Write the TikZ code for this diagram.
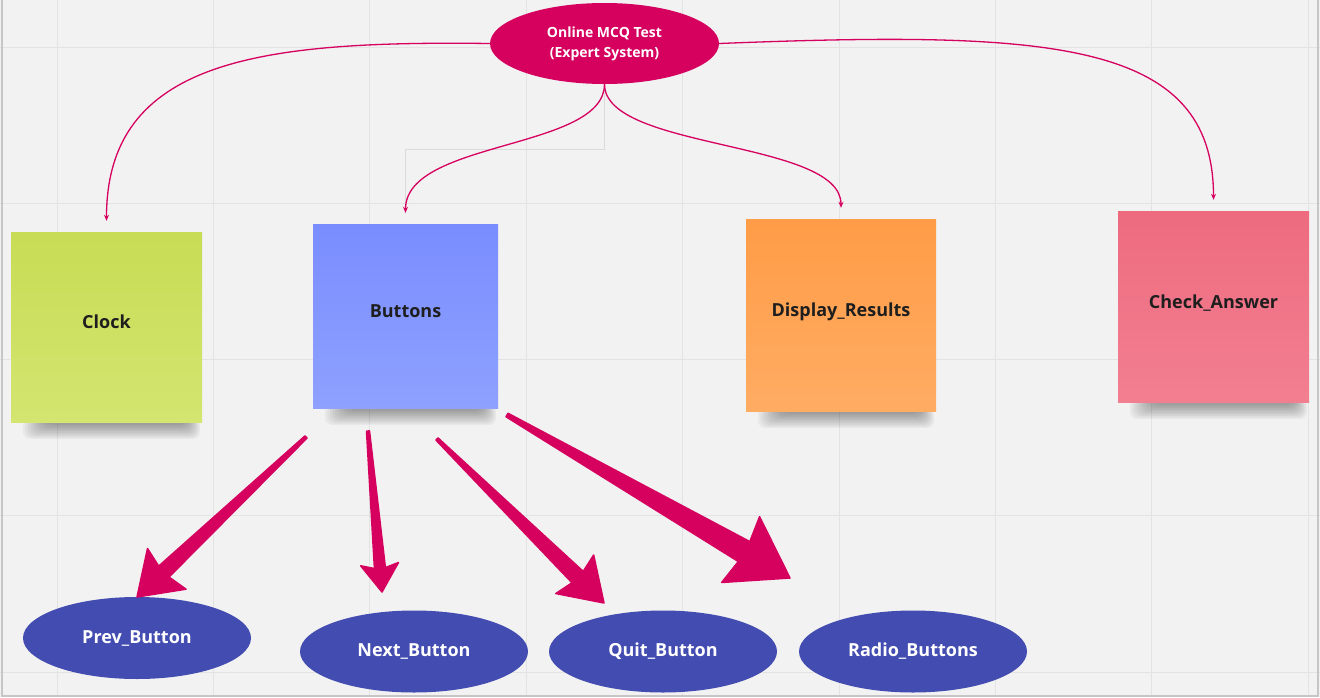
\documentclass[tikz,border=0pt]{standalone}
\usepackage{fontspec}
\setmainfont{Open Sans}
\usetikzlibrary{shapes.geometric,arrows.meta,calc}
\definecolor{bgc}{HTML}{F2F2F2}
\definecolor{gridc}{HTML}{E3E3E3}
\definecolor{edgec}{HTML}{C6C6C6}
\definecolor{mag}{HTML}{D6005F}
\definecolor{navy}{HTML}{434CB0}
\definecolor{inkc}{HTML}{1E1E1E}
\definecolor{limeT}{HTML}{C8DC55}
\definecolor{limeB}{HTML}{D4E570}
\definecolor{blueT}{HTML}{7A8DFF}
\definecolor{blueB}{HTML}{8EA1FF}
\definecolor{orT}{HTML}{FF9C47}
\definecolor{orB}{HTML}{FFAC63}
\definecolor{pkT}{HTML}{EE6B7F}
\definecolor{pkB}{HTML}{F27F90}
\pgfdeclarelayer{bglayer}
\pgfdeclarelayer{shadowlayer}
\pgfsetlayers{bglayer,shadowlayer,main}
\newcommand{\stickyshadow}[1]{%
  \foreach \k in {0,...,9}{%
    \fill[black,opacity=0.04,rounded corners=8pt]
      ($(#1.south west)+(12+2.5*\k,-4)$) rectangle ($(#1.south east)+(-2-1.5*\k,17-1.6*\k)$);
  }}
\newcommand{\wedgearrow}[6]{% tail, tip, tail half width, shaft half width, head half width, head length
  \pgfmathsetmacro\barbL{#6+4}%
  \fill[wedgefill]
    ($(#1)!#3pt!90:(#2)$) --
    ($(#2)!#6pt!(#1)!#4pt!90:(#2)$) --
    ($(#2)!\barbL pt!(#1)!#5pt!90:(#2)$) --
    (#2) --
    ($(#2)!\barbL pt!(#1)!#5pt!-90:(#2)$) --
    ($(#2)!#6pt!(#1)!#4pt!-90:(#2)$) --
    ($(#1)!#3pt!-90:(#2)$) -- cycle;}
\begin{document}
\begin{tikzpicture}[x=1pt,y=-1pt,
  stickybox/.style={rectangle,inner sep=0pt,text=inkc,
    font=\bfseries\fontsize{18}{22}\selectfont,text height=12.5pt,text depth=9.5pt},
  topoval/.style={ellipse,fill=mag,text=white,inner sep=0pt,
    minimum width=229pt,minimum height=81pt,align=center,
    font=\bfseries\fontsize{14}{20}\selectfont},
  btnoval/.style={ellipse,fill=navy,text=white,inner sep=0pt,
    minimum width=228pt,minimum height=82pt,
    font=\bfseries\fontsize{18}{22}\selectfont},
  conn/.style={draw=mag,line width=1.3pt,shorten >=11pt,
    -{Stealth[length=6pt,width=5pt]}},
  guide/.style={draw=black!14,line width=0.8pt},
  wedgefill/.style={fill=mag,draw=mag,line width=1.5pt,line join=round}]
\useasboundingbox (0,0) rectangle (1320,697);
\begin{pgfonlayer}{bglayer}
  \fill[bgc] (0,0) rectangle (1320,697);
  \foreach \i in {0,...,8} \draw[gridc,line width=1pt] ({57+156.4*\i},0) -- ({57+156.4*\i},697);
  \foreach \j in {0,...,4} \draw[gridc,line width=1pt] (0,{47+156.3*\j}) -- (1320,{47+156.3*\j});
  \draw[edgec,line width=2pt] (1.5,0) -- (1.5,695.5) -- (1317.5,695.5) -- (1317.5,0);
\end{pgfonlayer}

% main nodes
\node[topoval] (top) at (604.5,43.5) {Online MCQ Test\\(Expert System)};

\node[stickybox,minimum width=191pt,minimum height=190pt,top color=limeT,bottom color=limeB] (clock) at (106.5,327) {Clock};
\node[stickybox,minimum width=185pt,minimum height=184pt,top color=blueT,bottom color=blueB] (buttons) at (405.5,316) {Buttons};
\node[stickybox,minimum width=190pt,minimum height=192pt,top color=orT,bottom color=orB] (display) at (841,315) {Display\_Results};
\node[stickybox,minimum width=191pt,minimum height=191pt,top color=pkT,bottom color=pkB] (check) at (1213.5,306.5) {Check\_Answer};

\begin{pgfonlayer}{shadowlayer}
  \stickyshadow{clock}
  \stickyshadow{buttons}
  \stickyshadow{display}
  \stickyshadow{check}
  \draw[guide] (top.south) |- ($(buttons.north)+(0,-74.5)$) -- ($(buttons.north)+(0,-10)$);
\end{pgfonlayer}

\node[btnoval] (prev) at (137,638) {Prev\_Button};
\node[btnoval] (next) at (414,651.5) {Next\_Button};
\node[btnoval] (quit) at (663,651.5) {Quit\_Button};
\node[btnoval] (radio) at (913,651.5) {Radio\_Buttons};

% thin curved connectors
\draw[conn] (top.west) .. controls +(-230,-3) and +(0,-172) .. (clock.north);
\draw[conn] (top.south) .. controls +(0,66) and +(0,-84) .. (buttons.north);
\draw[conn] (top.south) .. controls +(0,66) and +(0,-79) .. (display.north);
\draw[conn] (top.east) .. controls +(331,-13) and +(0,-171) .. (check.north);

% thick wedge arrows
\coordinate (t1) at (306,437);  \coordinate (h1) at (137,597);
\coordinate (t2) at (368,431);  \coordinate (h2) at (382,592);
\coordinate (t3) at (437,439);  \coordinate (h3) at (604,603);
\coordinate (t4) at (507,415);  \coordinate (h4) at (790,578);
\wedgearrow{t1}{h1}{1.5}{7.5}{28}{37}
\wedgearrow{t2}{h2}{1.5}{5.5}{19}{24}
\wedgearrow{t3}{h3}{1.5}{8}{27}{37}
\wedgearrow{t4}{h4}{2}{11.5}{38}{53}
\end{tikzpicture}
\end{document}
